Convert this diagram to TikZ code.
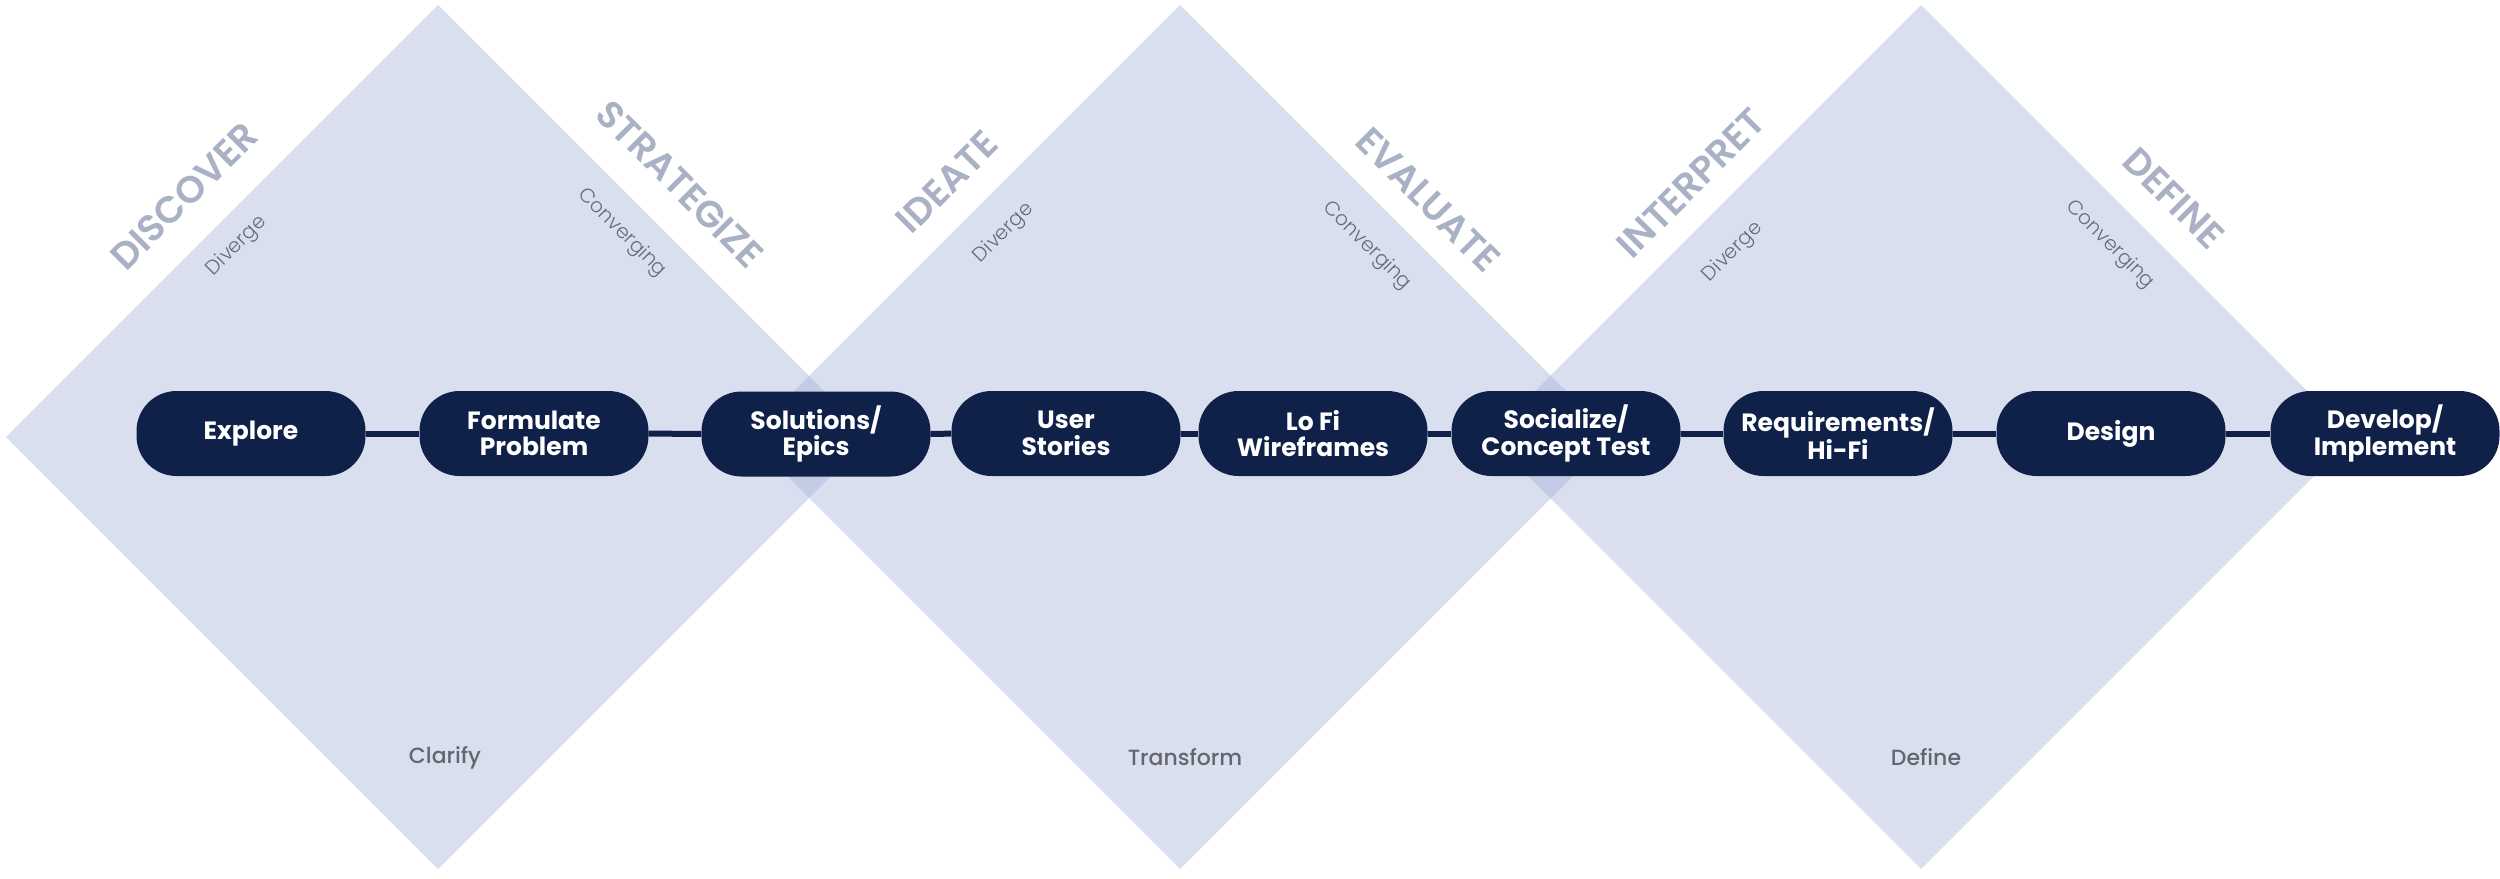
\documentclass[tikz,border=0pt]{standalone}
\usepackage{fontspec}
\setmainfont{Poppins}[BoldFont={Poppins Bold}]
\newfontfamily\popsemi{Poppins SemiBold}
\newfontfamily\poplight{Poppins Light}
\newfontfamily\popmed{Poppins Medium}
\definecolor{navy}{HTML}{0F2149}
\definecolor{dfill}{RGB}{162,175,215}
\definecolor{headc}{HTML}{A9B2C4}
\definecolor{smallc}{HTML}{6A6C74}
\definecolor{botc}{HTML}{64666D}
\tikzset{
  diamondbg/.style={fill=dfill, fill opacity=0.4},
  stage/.style={fill=navy, text=white, rounded corners=40pt, minimum width=229pt,
    minimum height=85pt, inner sep=0pt, align=center,
    font=\bfseries\fontsize{25}{26.5}\selectfont},
  conn/.style={draw=navy, line width=6pt},
  head/.style={text=headc, inner sep=0pt, font=\popsemi\fontsize{37.5}{37.5}\selectfont},
  phase/.style={text=smallc, inner sep=0pt, font=\poplight\fontsize{20}{20}\selectfont},
  bottomlbl/.style={text=botc, inner sep=0pt, font=\popmed\fontsize{22}{22}\selectfont}
}
\begin{document}
\begin{tikzpicture}[x=1pt, y=-1pt]
\useasboundingbox (0,0) rectangle (2500,878);
% diamonds
\fill[diamondbg] (6,437) -- (438,5) -- (870,437) -- (438,869) -- cycle;
\fill[diamondbg] (748,437) -- (1180,5) -- (1612,437) -- (1180,869) -- cycle;
\fill[diamondbg] (1489,437) -- (1921,5) -- (2353,437) -- (1921,869) -- cycle;
% headings
\node[head, rotate=45]  (h1) at (184,196)  {DISCOVER};
\node[head, rotate=-45] (h2) at (680,184)  {STRATEGIZE};
\node[head, rotate=45]  (h3) at (947,182)  {IDEATE};
\node[head, rotate=-45] (h4) at (1428,200) {EVALUATE};
\node[head, rotate=45]  (h5) at (1691,183) {INTERPRET};
\node[head, rotate=-45] (h6) at (2174,198) {DEFINE};
% phase labels
\node[phase, rotate=45]  (p1) at (237,246)  {Diverge};
\node[phase, rotate=-45] (p2) at (622,233)  {Converging};
\node[phase, rotate=45]  (p3) at (1004,233) {Diverge};
\node[phase, rotate=-45] (p4) at (1367,246) {Converging};
\node[phase, rotate=45]  (p5) at (1733,252) {Diverge};
\node[phase, rotate=-45] (p6) at (2110,245) {Converging};
% bottom labels
\node[bottomlbl] (b1) at (445,758)  {Clarify};
\node[bottomlbl] (b2) at (1185,757) {Transform};
\node[bottomlbl] (b3) at (1926,757) {Define};
% stages
\node[stage] (n1) at (251,433.5)  {Explore};
\node[stage] (n2) at (534,433.5)  {Formulate\\Problem};
\node[stage] (n3) at (816,434)    {Solutions/\\Epics};
\node[stage] (n4) at (1066,433.5) {User\\Stories};
\node[stage] (n5) at (1313,433.5) {Lo Fi\\Wireframes};
\node[stage] (n6) at (1566,433.5) {Socialize/\\Concept Test};
\node[stage] (n7) at (1838,433.5) {Requirements/\\Hi-Fi};
\node[stage] (n8) at (2111,433.5) {Design};
\node[stage] (n9) at (2385,433.5) {Develop/\\Implement};
% connectors
\draw[conn] (n1) -- (n2);
\draw[conn] (n2) -- (n3);
\draw[conn] (n3) -- (n4);
\draw[conn] (n4) -- (n5);
\draw[conn] (n5) -- (n6);
\draw[conn] (n6) -- (n7);
\draw[conn] (n7) -- (n8);
\draw[conn] (n8) -- (n9);
\end{tikzpicture}
\end{document}
